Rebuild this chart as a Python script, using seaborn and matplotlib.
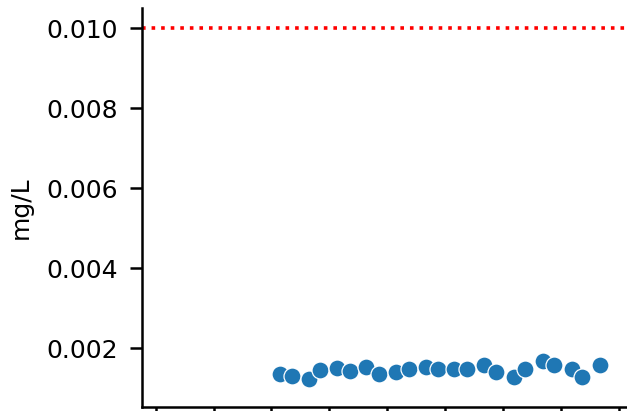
import matplotlib
matplotlib.use("Agg")
from matplotlib import pyplot as plt
import matplotlib.dates as mdates
import pandas as pd
import seaborn as sns

# sample dates (spring / autumn); the year labels sit below the cropped figure
sample_dates = [
    "2004-04-14", "2004-09-21", "2005-04-15", "2005-09-09", "2006-04-11",
    "2006-09-17", "2007-04-12", "2007-09-18", "2008-04-16", "2008-09-27",
    "2009-04-29", "2009-10-02", "2010-04-21", "2010-09-29", "2011-04-27",
    "2011-09-25", "2012-05-18", "2012-09-29", "2013-05-11", "2013-09-26",
    "2014-05-12", "2014-09-23", "2015-05-08",
]
concentration = [
    0.00134, 0.00131, 0.00123, 0.00144, 0.00149,
    0.00143, 0.00153, 0.00136, 0.00140, 0.00147,
    0.00153, 0.00148, 0.00148, 0.00148, 0.00158,
    0.00139, 0.00128, 0.00148, 0.00168, 0.00158,
    0.00148, 0.00128, 0.00158,
]
limit = 0.010  # mg/L standard
y_ticks = [0.002, 0.004, 0.006, 0.008, 0.010]

df = pd.DataFrame({"date": pd.to_datetime(sample_dates), "value": concentration})

plt.rcParams["font.family"] = ["DejaVu Sans"]
fig = plt.figure(figsize=(6.27, 4.11), dpi=100)
ax = fig.add_axes([0.2257, 0.0097, 0.7743, 0.9708])

sns.scatterplot(data=df, x="date", y="value", ax=ax, s=150, color="#1f77b4",
                edgecolor="white", linewidth=0.9)
ax.axhline(limit, color="red", linestyle=":", linewidth=2.6)

ax.set_ylim(0.000525, 0.0105)
ax.set_yticks(y_ticks)
ax.set_yticklabels([f"{v:.3f}" for v in y_ticks])
ax.set_xlim(pd.Timestamp("1999-07-08"), pd.Timestamp("2016-04-08"))
ax.xaxis.set_major_locator(mdates.YearLocator(2))
ax.xaxis.set_major_formatter(mdates.DateFormatter("%Y"))

ax.set_xlabel("")
ax.set_ylabel("mg/L", fontsize=18, labelpad=10)
ax.tick_params(axis="both", labelsize=18, length=9, width=1.8, pad=8,
               colors="black")
ax.tick_params(axis="x", labelbottom=False)
for side in ["left", "bottom"]:
    ax.spines[side].set_linewidth(1.8)
sns.despine(ax=ax)

fig.savefig("out.png", dpi=100)
